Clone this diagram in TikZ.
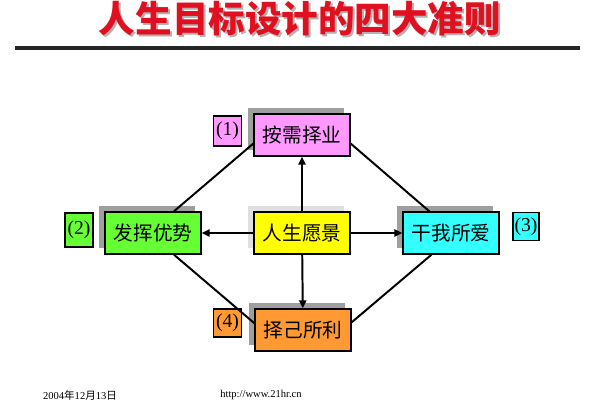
\documentclass[tikz,border=0pt]{standalone}
\usepackage{fontspec}
\setmainfont{Liberation Serif}
\newfontfamily\cjk{Noto Sans CJK SC}
\usetikzlibrary{arrows.meta,shadows}

\definecolor{boxpink}{HTML}{FF99FF}
\definecolor{boxgreen}{HTML}{66FF33}
\definecolor{boxyellow}{HTML}{FFFF00}
\definecolor{boxcyan}{HTML}{33FFFF}
\definecolor{boxorange}{HTML}{FF9933}
\definecolor{titlered}{HTML}{E01020}

\tikzset{
    goal/.style={draw,line width=1pt,minimum width=2.4cm,minimum height=1.05cm,
        font=\cjk\fontsize{14}{16}\selectfont,
        drop shadow={shadow xshift=-1.6mm,shadow yshift=1.5mm,fill=gray!75,opacity=1}},
    tag/.style={draw,line width=0.8pt,inner sep=1pt,minimum width=0.7cm,minimum height=0.75cm,
        font=\fontsize{14}{16}\selectfont},
    link/.style={line width=1.4pt},
    pointer/.style={line width=1.4pt,-{Triangle[length=2mm,width=1.8mm]}}
}

\begin{document}
\begin{tikzpicture}[x=0.025cm,y=-0.025cm]
    \useasboundingbox (0,0) rectangle (600,400);

        % title
        \node [text=gray!60,font=\cjk\bfseries\fontsize{26}{28}\selectfont] (titleshade) at (302,21) {人生目标设计的四大准则};
        \node [text=titlered,font=\cjk\bfseries\fontsize{26}{28}\selectfont] (title) at (300,19) {人生目标设计的四大准则};
        \coordinate (ruleL) at (15,48);
        \coordinate (ruleR) at (580,48);
        \draw[line width=2.2pt,black!85] (ruleL) -- (ruleR);

        % boxes
        \node [goal,fill=boxpink] (need) at (302,135) {按需择业};
        \node [goal,fill=boxgreen] (strength) at (153,233) {发挥优势};
        \node [goal,fill=boxyellow,drop shadow={shadow xshift=-1.6mm,shadow yshift=1.5mm,fill=gray!25,opacity=1}] (vision) at (302,233) {人生愿景};
        \node [goal,fill=boxcyan] (love) at (451,233) {干我所爱};
        \node [goal,fill=boxorange] (benefit) at (303,330) {择己所利};

        % numbers
        \node [tag,fill=boxpink] (n1) at (227.5,131) {(1)};
        \node [tag,fill=boxgreen,minimum height=0.85cm] (n2) at (79,230) {(2)};
        \node [tag,fill=boxcyan,minimum width=0.65cm,minimum height=0.7cm] (n3) at (526,226.5) {(3)};
        \node [tag,fill=boxorange,minimum height=0.7cm] (n4) at (227.5,323) {(4)};

        % connectors
        \draw[pointer] (vision) -- (need);
        \draw[pointer] (vision) -- (strength);
        \draw[pointer] (vision) -- (love);
        \draw[pointer] (vision) -- (benefit);

        \draw[link] (need.190) -- (strength.46);
        \draw[link] (need.350) -- (love.135);
        \draw[link] (strength.314) -- (benefit.172);
        \draw[link] (love.228) -- (benefit.9);

        % footer
        \node [font=\fontsize{7.5}{9}\selectfont] (date) at (80,395) {2004{\cjk 年}12{\cjk 月}13{\cjk 日}};
        \node [font=\fontsize{7.5}{9}\selectfont] (site) at (261,395) {http://www.21hr.cn};

\end{tikzpicture}
\end{document}
